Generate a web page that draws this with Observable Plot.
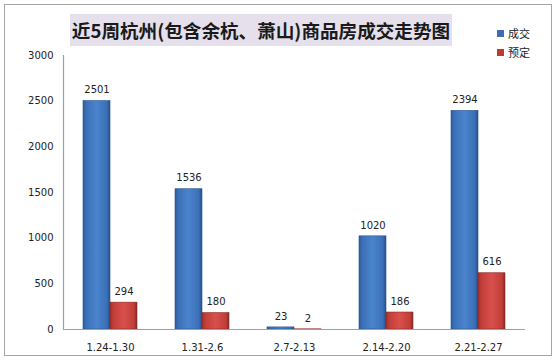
<!DOCTYPE html>
<html><head><meta charset="utf-8">
<script src="https://cdn.jsdelivr.net/npm/d3@7"></script>
<script src="https://cdn.jsdelivr.net/npm/@observablehq/plot@0.6"></script>
<style>
body{margin:0;background:#fff;font-family:"DejaVu Sans",Verdana,sans-serif;}
#wrap{position:relative;width:558px;height:362px;overflow:hidden;}
#border{position:absolute;left:4px;top:4px;width:548px;height:352px;border:1px solid #a6a6a6;box-sizing:border-box;}
#title{position:absolute;left:70px;top:14px;width:382px;height:32px;background:#e5e0ec;font-family:"Noto Sans CJK SC",sans-serif;font-weight:bold;font-size:18.6px;line-height:32px;text-align:center;color:#1a1a1a;white-space:nowrap;overflow:hidden;}
#chart{position:absolute;left:0;top:0;}
.leg{position:absolute;left:497px;font-family:"Noto Sans CJK SC",sans-serif;font-size:11px;color:#222;line-height:14px;}
.leg span{display:inline-block;width:7px;height:7px;margin-right:4px;vertical-align:1px;}
</style></head>
<body><div id="wrap"><div id="border"></div><div id="chart"></div><div id="title">近5周杭州(包含余杭、萧山)商品房成交走势图</div>
<div class="leg" style="top:26px"><span style="background:#3a6db3"></span>成交</div>
<div class="leg" style="top:45px"><span style="background:#c0392f"></span>预定</div>
</div>
<script>
const weeks = ["1.24-1.30","1.31-2.6","2.7-2.13","2.14-2.20","2.21-2.27"];
const deals = [2501,1536,23,1020,2394];
const reserved = [294,180,2,186,616];
const yTicks = [0,500,1000,1500,2000,2500,3000];

const dealData = weeks.map((w,i)=>({week:w, value:deals[i]}));
const resData = weeks.map((w,i)=>({week:w, value:reserved[i]}));

const plot = Plot.plot({
  width:558, height:362,
  marginLeft:63, marginRight:33, marginTop:55, marginBottom:33,
  style:{fontFamily:"DejaVu Sans, Verdana, sans-serif", fontSize:"10px", color:"#222", background:"transparent"},
  x:{domain:weeks, paddingInner:0.41, paddingOuter:0.205, label:null},
  y:{domain:[0,3000], label:null},
  marks:[
    Plot.axisY({ticks:yTicks, tickFormat:d=>String(d), tickSize:0, tickPadding:10, label:null, fontSize:10}),
    Plot.axisX({tickSize:0, tickPadding:14, label:null, fontSize:10}),
    Plot.barY(dealData,{x:"week", y:"value", insetRight:27, insetLeft:0, fill:"url(#gBlue)", stroke:"#2d5890", strokeWidth:0.6}),
    Plot.barY(resData,{x:"week", y:"value", insetLeft:27, fill:"url(#gRed)", stroke:"#8e2b27", strokeWidth:0.6}),
    Plot.text(dealData,{x:"week", y:"value", text:d=>String(d.value), dx:-13.5, dy:-11, fontSize:10, fill:"#222"}),
    Plot.text(resData,{x:"week", y:"value", text:d=>String(d.value), dx:13.5, dy:-11, fontSize:10, fill:"#222"}),
    Plot.ruleY([0],{stroke:"#a0a0a0", strokeWidth:1.2}),
    Plot.frame({anchor:"left", stroke:"#a0a0a0", strokeWidth:1.2})
  ]
});
const ns="http://www.w3.org/2000/svg";
const defs=document.createElementNS(ns,"defs");
defs.innerHTML=`
<linearGradient id="gBlue" x1="0" x2="1" y1="0" y2="0">
<stop offset="0" stop-color="#2c5b98"/><stop offset="0.12" stop-color="#3b70b8"/><stop offset="0.5" stop-color="#4a84cc"/><stop offset="0.88" stop-color="#3b70b8"/><stop offset="1" stop-color="#254f88"/></linearGradient>
<linearGradient id="gRed" x1="0" x2="1" y1="0" y2="0">
<stop offset="0" stop-color="#97302c"/><stop offset="0.12" stop-color="#c23e39"/><stop offset="0.5" stop-color="#d9504b"/><stop offset="0.88" stop-color="#c23e39"/><stop offset="1" stop-color="#8a2824"/></linearGradient>`;
plot.insertBefore(defs, plot.firstChild);
document.getElementById("chart").appendChild(plot);
</script></body></html>
